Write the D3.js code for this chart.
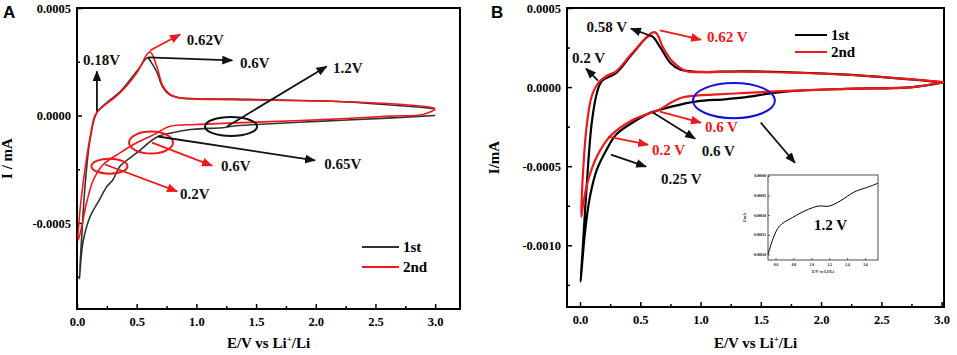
<!DOCTYPE html>
<html>
<head>
<meta charset="utf-8">
<script src="https://cdn.jsdelivr.net/npm/d3@7/dist/d3.min.js"></script>
<style>
  body { margin: 0; background: #fff; }
  text { font-family: "Liberation Serif", "Times New Roman", serif; font-weight: bold; }
  text.letter { font-family: "Liberation Sans", Arial, sans-serif; }
</style>
</head>
<body>
<svg width="957" height="355"></svg>
<script>
// ---- panel A, cycle 1 (black) : cathodic from 3 V, then anodic back
var aCycle1V = [3.0, 2.6, 2.06, 1.5, 1.3, 1.22, 1.1, 0.95, 0.8, 0.67, 0.5, 0.36, 0.3, 0.25, 0.19, 0.11, 0.05, 0.02,
  0.04, 0.067, 0.11, 0.165, 0.25, 0.36, 0.45, 0.52, 0.59, 0.63, 0.67, 0.72, 0.78, 0.86, 1.0, 1.31, 2.14, 2.6, 3.0];
var aCycle1I = [0, -0.000012, -0.000026, -0.000042, -0.00005, -0.000057, -0.00006, -0.000065, -0.00008, -0.0001,
  -0.000174, -0.000236, -0.0003, -0.00033, -0.00039, -0.00047, -0.00059, -0.00076,
  -0.00056, -0.00033, -0.00011, 0.000012, 0.00006, 0.00011, 0.00017, 0.00022, 0.000268, 0.00024, 0.0002, 0.00013,
  0.000095, 0.000082, 0.000078, 0.000076, 0.000066, 0.00005, 0.000032];

// ---- panel A, cycle 2 (red)
var aCycle2V = [3.0, 2.9, 2.62, 2.06, 1.5, 1.0, 0.78, 0.64, 0.5, 0.36, 0.22, 0.137, 0.08, 0.04, 0.01,
  0.02, 0.067, 0.11, 0.15, 0.19, 0.36, 0.5, 0.61, 0.667, 0.72, 0.78, 0.86, 1.31, 2.14, 2.75, 2.98, 3.0];
var aCycle2I = [0.000028, 0.000005, -0.000003, -0.000019, -0.000031, -0.000042, -0.00005, -0.00009, -0.000127,
  -0.000174, -0.000228, -0.0003, -0.000406, -0.000515, -0.00058,
  -0.00047, -0.00025, -0.0001, 0, 0.000028, 0.000105, 0.000198, 0.000296, 0.00023, 0.000136, 0.0000977,
  0.000082, 0.000074, 0.000066, 0.00005, 0.000036, 0.000028];

// ---- panel B, cycle 1 (black)
var bCycle1V = [3.01, 2.76, 2.21, 1.75, 1.58, 1.38, 1.2, 0.97, 0.75, 0.66, 0.58, 0.44, 0.3, 0.22, 0.14, 0.083, 0.041, 0.005,
  0.02, 0.055, 0.097, 0.14, 0.18, 0.3, 0.44, 0.586, 0.66, 0.75, 0.83, 1.0, 1.38, 2.21, 2.77, 3.01];
var bCycle1I = [0.00003, 0, -0.000011, -0.000025, -0.00004, -0.000063, -0.000077, -0.00009, -0.000125, -0.000145,
  -0.000163, -0.000222, -0.0003, -0.000396, -0.000522, -0.00069, -0.00092, -0.00123,
  -0.00105, -0.00063, -0.000227, -0.000037, 0.000037, 0.00009, 0.000216, 0.000326, 0.000258, 0.000153,
  0.000111, 0.000096, 0.0001, 0.000079, 0.000047, 0.00003];

// ---- panel B, cycle 2 (red)
var bCycle2V = [3.02, 2.76, 2.21, 1.66, 1.38, 1.1, 0.94, 0.83, 0.75, 0.66, 0.44, 0.25, 0.14, 0.069, 0.028, 0.01,
  0.028, 0.055, 0.097, 0.152, 0.22, 0.3, 0.44, 0.62, 0.69, 0.77, 0.885, 1.0, 1.38, 2.21, 2.77, 3.02];
var bCycle2I = [0.000032, 0, -0.000011, -0.000026, -0.000037, -0.000047, -0.000055, -0.00007, -0.0001, -0.000142,
  -0.000206, -0.00031, -0.000438, -0.000585, -0.00073, -0.00082,
  -0.0005, -0.000248, -0.000058, 0.000027, 0.00007, 0.0001, 0.00022, 0.000347, 0.000248, 0.00016, 0.0001,
  0.000095, 0.000097, 0.000078, 0.000048, 0.000032];

// ---- inset of panel B (1st cycle near 1.2 V)
var insetV = [0.516, 0.636, 0.79, 0.97, 1.08, 1.2, 1.33, 1.48, 1.63, 1.745];
var insetI = [-0.0002, -0.00013, -0.000106, -0.000085, -0.000077, -0.000077, -0.000063, -0.000041, -0.000029, -0.000019];

var xTickValues = [0, 0.5, 1.0, 1.5, 2.0, 2.5, 3.0];
var xMinorValues = [0.25, 0.75, 1.25, 1.75, 2.25, 2.75];
var aYTickValues = [-0.0005, 0, 0.0005];
var aYMinorValues = [-0.00075, -0.00025, 0.00025];
var bYTickValues = [-0.001, -0.0005, 0, 0.0005];
var bYMinorValues = [-0.00125, -0.00075, -0.00025, 0.00025];
var insetXTicks = [0.6, 0.8, 1.0, 1.2, 1.4, 1.6];
var insetYTicks = [-0.0002, -0.00015, -0.0001, -0.00005, 0];
var legendNames = ["1st", "2nd"];

// annotations in data units: arrows [x1, y1, x2, y2, colour]
var aArrows = [
  [0.611, 0.000302, 0.863, 0.000377, "red"],
  [0.595, 0.00027, 1.30, 0.000256, "black"],
  [0.167, 0.0000186, 0.167, 0.000205, "black"],
  [1.256, -0.000051, 2.09, 0.000228, "black"],
  [0.628, -0.000126, 1.13, -0.000233, "red"],
  [0.678, -0.0000977, 1.993, -0.000209, "black"],
  [0.235, -0.000228, 0.838, -0.000353, "red"]
];
var aLabels = [
  [0.92, 0.00033, "0.62V", "black", "start"],
  [1.365, 0.000223, "0.6V", "black", "start"],
  [0.05, 0.000233, "0.18V", "black", "start"],
  [2.144, 0.0002, "1.2V", "black", "start"],
  [1.206, -0.00026, "0.6V", "black", "start"],
  [2.07, -0.000247, "0.65V", "black", "start"],
  [0.863, -0.00039, "0.2V", "black", "start"]
];
var aRings = [
  [1.29, -0.000051, 0.218, 0.0000442, "black"],
  [0.62, -0.000126, 0.184, 0.0000512, "red"],
  [0.272, -0.000236, 0.151, 0.0000349, "red"]
];
var bArrows = [
  [0.58, 0.000326, 0.423, 0.00037, "black"],
  [0.663, 0.000358, 1.003, 0.0003, "red"],
  [0.149, 0.000041, 0.05, 0.000117, "black"],
  [0.663, -0.000155, 1.003, -0.000225, "red"],
  [0.605, -0.000161, 0.954, -0.000326, "black"],
  [0.232, -0.000313, 0.564, -0.000364, "red"],
  [0.257, -0.000427, 0.547, -0.000503, "black"],
  [1.50, -0.000225, 1.783, -0.000478, "black"]
];
var bLabels = [
  [0.39, 0.00035, "0.58 V", "black", "end"],
  [1.053, 0.000288, "0.62 V", "red", "start"],
  [-0.066, 0.000155, "0.2 V", "black", "start"],
  [1.036, -0.000282, "0.6 V", "red", "start"],
  [1.01, -0.000434, "0.6 V", "black", "start"],
  [0.597, -0.000427, "0.2 V", "red", "start"],
  [0.672, -0.00061, "0.25 V", "black", "start"]
];
var bRings = [
  [1.277, -0.0000854, 0.34, 0.000111, "blue"]
];

var colours = { black: "#111", red: "#f01818", blue: "#1010e0" };

document.addEventListener("DOMContentLoaded", function () {

  var svg = d3.select("svg");

  var defs = svg.append("defs");
  Object.keys(colours).forEach(function (key) {
    defs.append("marker")
      .attr("id", "head-" + key)
      .attr("viewBox", "0 0 10 8")
      .attr("refX", 9).attr("refY", 4)
      .attr("markerUnits", "userSpaceOnUse")
      .attr("markerWidth", 11).attr("markerHeight", 9)
      .attr("orient", "auto")
      .append("path")
      .attr("d", "M0,0 L10,4 L0,8 Z")
      .attr("fill", colours[key]);
  });

  drawPanel({
    letter: "A", letterX: 3,
    left: 77, right: 460, top: 8, bottom: 309,
    xDomain: [0, 3.208], yDomain: [-0.0009, 0.0005],
    yTicks: aYTickValues, yMinor: aYMinorValues,
    yTitle: "I / mA", yTitleX: 12,
    series: [[aCycle1V, aCycle1I, "#333"], [aCycle2V, aCycle2I, colours.red]],
    lineWidth: 1.6,
    arrows: aArrows, labels: aLabels, rings: aRings,
    legendX: 362, legendY: 247, legendGap: 20, legendLen: 37
  });

  drawPanel({
    letter: "B", letterX: 491,
    left: 567, right: 944, top: 8, bottom: 307,
    xDomain: [-0.108, 3.02], yDomain: [-0.00139, 0.0005],
    yTicks: bYTickValues, yMinor: bYMinorValues,
    yTitle: "I/mA", yTitleX: 499,
    series: [[bCycle1V, bCycle1I, "#000"], [bCycle2V, bCycle2I, colours.red]],
    lineWidth: 2.2,
    arrows: bArrows, labels: bLabels, rings: bRings,
    legendX: 795, legendY: 35, legendGap: 17, legendLen: 32
  });

  drawInset();

  function drawPanel(cfg) {
    var g = svg.append("g");
    var x = d3.scaleLinear().domain(cfg.xDomain).range([cfg.left, cfg.right]);
    var y = d3.scaleLinear().domain(cfg.yDomain).range([cfg.bottom, cfg.top]);

    // ticks, inside the frame
    var xAxis = d3.axisBottom(x).tickValues(xTickValues)
      .tickSizeInner(-5).tickSizeOuter(0).tickPadding(8)
      .tickFormat(function (d) { return d.toFixed(1); });
    g.append("g").attr("transform", "translate(0," + cfg.bottom + ")").call(xAxis);
    g.append("g").attr("transform", "translate(0," + cfg.bottom + ")")
      .call(d3.axisBottom(x).tickValues(xMinorValues).tickSizeInner(-3).tickSizeOuter(0).tickFormat(""));

    var yAxis = d3.axisLeft(y).tickValues(cfg.yTicks)
      .tickSizeInner(-5).tickSizeOuter(0).tickPadding(6)
      .tickFormat(function (d) { return d.toFixed(4); });
    g.append("g").attr("transform", "translate(" + cfg.left + ",0)").call(yAxis);
    g.append("g").attr("transform", "translate(" + cfg.left + ",0)")
      .call(d3.axisLeft(y).tickValues(cfg.yMinor).tickSizeInner(-3).tickSizeOuter(0).tickFormat(""));

    g.selectAll(".domain").remove();
    g.selectAll(".tick line").attr("stroke", "#000").attr("stroke-width", 1.5);
    g.selectAll(".tick text").attr("font-size", 12.5).attr("fill", "#000");

    g.append("rect")
      .attr("x", cfg.left).attr("y", cfg.top)
      .attr("width", cfg.right - cfg.left).attr("height", cfg.bottom - cfg.top)
      .attr("fill", "none").attr("stroke", "#000").attr("stroke-width", 2);

    // curves
    var line = d3.line()
      .x(function (d) { return x(d[0]); })
      .y(function (d) { return y(d[1]); })
      .curve(d3.curveCatmullRom.alpha(0.5));

    cfg.series.forEach(function (s) {
      var pts = s[0].map(function (v, i) { return [v, s[1][i]]; });
      g.append("path")
        .attr("d", line(pts))
        .attr("fill", "none")
        .attr("stroke", s[2])
        .attr("stroke-width", cfg.lineWidth)
        .attr("stroke-linejoin", "round");
    });

    // rings
    cfg.rings.forEach(function (r) {
      g.append("ellipse")
        .attr("cx", x(r[0])).attr("cy", y(r[1]))
        .attr("rx", x(r[0] + r[2]) - x(r[0]))
        .attr("ry", y(r[1]) - y(r[1] + r[3]))
        .attr("fill", "none").attr("stroke", colours[r[4]]).attr("stroke-width", 2);
    });

    // arrows
    cfg.arrows.forEach(function (a) {
      g.append("line")
        .attr("x1", x(a[0])).attr("y1", y(a[1]))
        .attr("x2", x(a[2])).attr("y2", y(a[3]))
        .attr("stroke", colours[a[4]]).attr("stroke-width", 1.8)
        .attr("marker-end", "url(#head-" + a[4] + ")");
    });

    cfg.labels.forEach(function (l) {
      g.append("text")
        .attr("x", x(l[0])).attr("y", y(l[1]))
        .attr("text-anchor", l[4])
        .attr("font-size", 15)
        .attr("fill", colours[l[3]])
        .text(l[2]);
    });

    // legend
    legendNames.forEach(function (name, i) {
      var ly = cfg.legendY + i * cfg.legendGap;
      g.append("line")
        .attr("x1", cfg.legendX).attr("x2", cfg.legendX + cfg.legendLen)
        .attr("y1", ly).attr("y2", ly)
        .attr("stroke", cfg.series[i][2]).attr("stroke-width", 2);
      g.append("text")
        .attr("x", cfg.legendX + cfg.legendLen + 4).attr("y", ly + 5)
        .attr("font-size", 15).attr("fill", "#000")
        .text(name);
    });

    // titles
    var xt = g.append("text")
      .attr("x", (cfg.left + cfg.right) / 2).attr("y", 348)
      .attr("text-anchor", "middle").attr("font-size", 15).attr("fill", "#000");
    xt.append("tspan").text("E/V vs Li");
    xt.append("tspan").attr("dy", -6).attr("font-size", 9).text("+");
    xt.append("tspan").attr("dy", 6).text("/Li");

    g.append("text")
      .attr("transform", "translate(" + cfg.yTitleX + "," + ((cfg.top + cfg.bottom) / 2) + ") rotate(-90)")
      .attr("text-anchor", "middle").attr("font-size", 15).attr("fill", "#000")
      .text(cfg.yTitle);

    g.append("text")
      .attr("class", "letter")
      .attr("x", cfg.letterX).attr("y", 18)
      .attr("font-size", 17).attr("fill", "#000")
      .text(cfg.letter);
  }

  function drawInset() {
    var left = 768, right = 878, top = 175, bottom = 260;
    var g = svg.append("g");
    var x = d3.scaleLinear().domain([0.516, 1.745]).range([left, right]);
    var y = d3.scaleLinear().domain([-0.000214, 0.000002]).range([bottom, top]);

    g.append("g").attr("transform", "translate(0," + bottom + ")")
      .call(d3.axisBottom(x).tickValues(insetXTicks).tickSizeInner(-2).tickSizeOuter(0).tickPadding(3)
        .tickFormat(function (d) { return d.toFixed(1); }));
    g.append("g").attr("transform", "translate(" + left + ",0)")
      .call(d3.axisLeft(y).tickValues(insetYTicks).tickSizeInner(-2).tickSizeOuter(0).tickPadding(2)
        .tickFormat(function (d) { return d.toFixed(5); }));
    g.selectAll(".domain").remove();
    g.selectAll(".tick line").attr("stroke", "#000").attr("stroke-width", 0.6);
    g.selectAll(".tick text").attr("font-size", 3.6).attr("fill", "#000");

    g.append("rect")
      .attr("x", left).attr("y", top).attr("width", right - left).attr("height", bottom - top)
      .attr("fill", "none").attr("stroke", "#222").attr("stroke-width", 0.8);

    var line = d3.line()
      .x(function (d) { return x(d[0]); })
      .y(function (d) { return y(d[1]); })
      .curve(d3.curveCatmullRom.alpha(0.5));
    g.append("path")
      .attr("d", line(insetV.map(function (v, i) { return [v, insetI[i]]; })))
      .attr("fill", "none").attr("stroke", "#000").attr("stroke-width", 1);

    g.append("text")
      .attr("x", x(1.03)).attr("y", y(-0.000138))
      .attr("font-size", 15).attr("fill", "#000")
      .text("1.2 V");

    g.append("text")
      .attr("x", (left + right) / 2).attr("y", bottom + 13)
      .attr("text-anchor", "middle").attr("font-size", 4).attr("fill", "#000")
      .text("E/V vs Li\u207A/Li");
    g.append("text")
      .attr("transform", "translate(" + (left - 22) + "," + ((top + bottom) / 2) + ") rotate(-90)")
      .attr("text-anchor", "middle").attr("font-size", 4).attr("fill", "#000")
      .text("I/mA");
  }

});
</script>
</body>
</html>
